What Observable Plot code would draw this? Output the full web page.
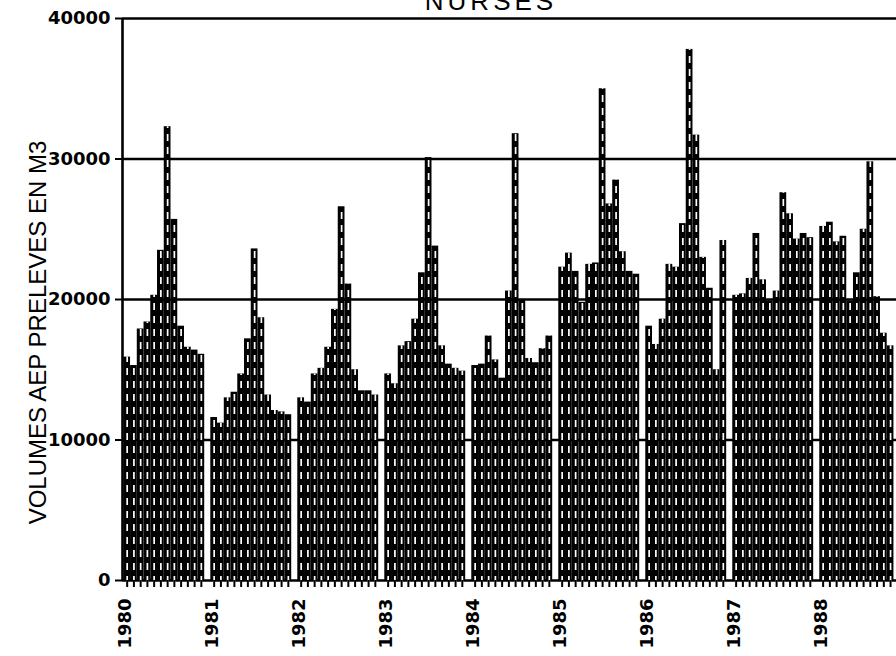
<!DOCTYPE html>
<html><head><meta charset="utf-8">
<script src="https://cdn.jsdelivr.net/npm/d3@7"></script>
<script src="https://cdn.jsdelivr.net/npm/@observablehq/plot@0.6"></script>
<style>
html,body{margin:0;padding:0;background:#fff;overflow:hidden;}
#wrap{position:relative;width:896px;height:656px;overflow:hidden;}
#title{position:absolute;left:0;width:982px;top:-12px;text-align:center;font:26px "Liberation Sans",Arial,sans-serif;letter-spacing:4px;line-height:26px;color:#000;}
#chart{position:absolute;left:0;top:0;}
g[aria-label="ylabel"] text{letter-spacing:1.6px;}
</style></head><body><div id="wrap"><div id="chart"></div><div id="title">NURSES</div></div>
<script>
const title = "NURSES";
const yLabel = "VOLUMES AEP PRELEVES EN M3";
const years = [1980, 1981, 1982, 1983, 1984, 1985, 1986, 1987, 1988];
const yTicks = [0, 10000, 20000, 30000, 40000];
const v1980 = [15900, 15300, 17900, 18400, 20300, 23500, 32300, 25700, 18100, 16600, 16400, 16100];
const v1981 = [11600, 11200, 13000, 13400, 14700, 17200, 23600, 18700, 13200, 12100, 12000, 11800];
const v1982 = [13000, 12700, 14700, 15100, 16600, 19300, 26600, 21100, 15000, 13500, 13500, 13200];
const v1983 = [14700, 14000, 16700, 17000, 18600, 21900, 30100, 23800, 16700, 15400, 15100, 14900];
const v1984 = [15300, 15400, 17400, 15700, 14400, 20600, 31800, 20000, 15800, 15500, 16500, 17400];
const v1985 = [22300, 23300, 22000, 19800, 22500, 22600, 35000, 26800, 28500, 23400, 22000, 21800];
const v1986 = [18100, 16800, 18600, 22500, 22300, 25400, 37800, 31700, 23000, 20800, 15000, 24200];
const v1987 = [20300, 20400, 21500, 24700, 21400, 19900, 20600, 27600, 26100, 24300, 24700, 24400];
const v1988 = [25200, 25500, 24100, 24500, 19900, 21900, 25000, 29800, 20200, 17600, 16700];
const series = [v1980, v1981, v1982, v1983, v1984, v1985, v1986, v1987, v1988];

const off = 0.015, step = 0.0775;
const rows = years.flatMap((yr, i) => series[i].map((v, m) => ({year: yr, m, v})));
const x1 = d => d.year + off + d.m * step;
const x2 = d => d.year + off + (d.m + 1) * step;
const xc = d => d.year + off + (d.m + 0.5) * step;
const monthTicks = rows.map(xc);

const chart = Plot.plot({
  width: 896,
  height: 656,
  marginLeft: 122,
  marginRight: 0,
  marginTop: 18,
  marginBottom: 76,
  style: {fontFamily: "DejaVu Sans", fontWeight: "bold", fontSize: "18px", background: "white", color: "black"},
  x: {domain: [1980, 1988.897], axis: null},
  y: {domain: [0, 40000], axis: null},
  marks: [
    Plot.ruleY(yTicks, {stroke: "black", strokeWidth: 2.6}),
    Plot.rectY(rows, {x1, x2, y: "v", fill: "black"}),
    Plot.ruleX(rows, {x: xc, y1: 0, y2: "v", stroke: "white", strokeWidth: 1.7, strokeDasharray: "7 6", insetTop: 3}),
    Plot.ruleX([1980], {stroke: "black", strokeWidth: 2.6}),
    Plot.axisY({ticks: yTicks, tickSize: 7, tickPadding: 5, tickFormat: d => String(d), fontSize: 18, label: null, strokeWidth: 2}),
    Plot.axisX({ticks: monthTicks, tickSize: 7, tickFormat: () => "", strokeWidth: 2, label: null}),
    Plot.axisX({ticks: years, tickSize: 0, tickPadding: 18, tickRotate: -90, tickFormat: d => String(d), dx: 3, fontSize: 18, label: null}),
    Plot.text([yLabel], {frameAnchor: "left", rotate: -90, dx: -84, dy: 33, fontSize: 24, fontWeight: "normal", fontFamily: "Liberation Sans", textAnchor: "middle", ariaLabel: "ylabel"})
  ]
});
document.getElementById("chart").appendChild(chart);
document.getElementById("title").textContent = title;
</script></body></html>
